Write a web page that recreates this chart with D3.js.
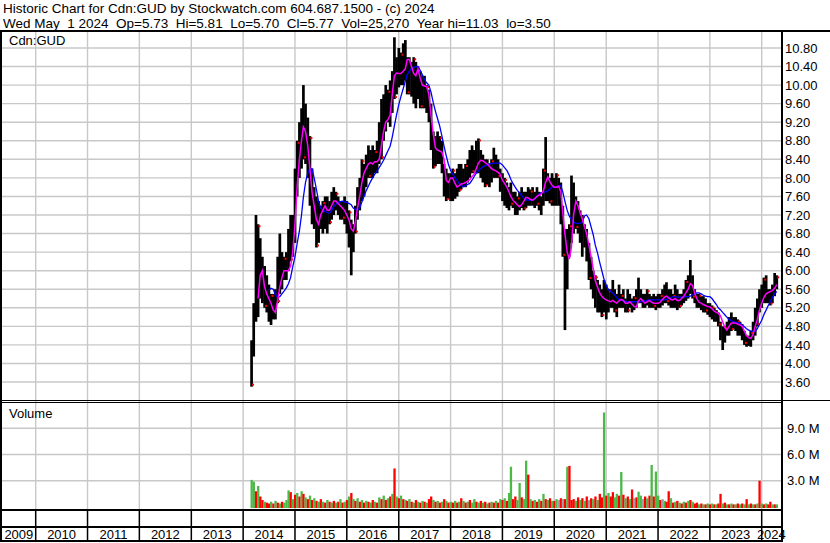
<!DOCTYPE html>
<html>
<head>
<meta charset="utf-8">
<script src="https://cdn.jsdelivr.net/npm/d3@7"></script>
<style>
    body { margin: 0; background: #fff; }
    svg { display: block; font-family: "Liberation Sans", Arial, sans-serif; }
</style>
</head>
<body>
<div id="chart"></div>
<script>
// header text
const headerLines = [
    "Historic Chart for Cdn:GUD by Stockwatch.com 604.687.1500 - (c) 2024",
    "Wed May  1 2024  Op=5.73  Hi=5.81  Lo=5.70  Cl=5.77  Vol=25,270  Year hi=11.03  lo=3.50"
];
const symbolLabel = "Cdn:GUD";

// axis labels
const years = [2009, 2010, 2011, 2012, 2013, 2014, 2015, 2016, 2017, 2018, 2019, 2020, 2021, 2022, 2023, 2024];
const priceTicks = [3.60, 4.00, 4.40, 4.80, 5.20, 5.60, 6.00, 6.40, 6.80, 7.20, 7.60, 8.00, 8.40, 8.80, 9.20, 9.60, 10.00, 10.40, 10.80];
const volTicks = [3, 6, 9];

// half-month periods, first one starts March 1 2014
const firstPeriod = [2014, 2];

// period highs
const priceHi = [
    4.5, 5.3, 7.2, 7.0, 6.7, 6.3, 6.1, 5.9, 5.7, 5.5, 5.5, 5.6, 6.3, 6.8, 6.4, 6.3, 6.4, 6.9, 7.2, 7.2,
    8.2, 8.8, 9.2, 9.5, 10.0, 9.6, 9.3, 8.9, 8.2, 7.8, 7.6, 7.5, 7.4, 7.5, 7.6, 7.6, 7.5, 7.7, 7.8, 7.7, 7.6, 7.5, 7.5, 7.6,
    7.5, 7.3, 7.1, 7.0, 7.4, 7.8, 8.0, 8.4, 8.3, 8.5, 8.7, 8.6, 8.7, 8.6, 8.8, 9.2, 9.7, 9.8, 10.0, 9.9, 10.1, 10.3, 11.03, 10.6,
    10.8, 10.7, 10.9, 10.97, 10.6, 10.6, 10.5, 10.6, 10.5, 10.4, 10.3, 10.2, 10.2, 10.0, 9.9, 9.6, 9.0, 8.9, 9.0, 8.9, 8.8, 8.3, 8.2, 8.1,
    8.1, 8.2, 8.1, 8.2, 8.3, 8.3, 8.2, 8.3, 8.4, 8.6, 8.7, 8.6, 8.8, 8.85, 8.6, 8.5, 8.4, 8.4, 8.3, 8.4, 8.65, 8.5, 8.4, 8.2,
    8.1, 8.0, 7.9, 7.8, 7.9, 7.7, 7.7, 7.6, 7.7, 7.8, 7.7, 7.7, 7.8, 7.75, 7.8, 7.7, 7.8, 7.7, 7.6, 8.2, 8.88, 8.1, 8.0, 8.1,
    8.0, 8.1, 8.0, 7.9, 7.4, 6.9, 6.9, 7.0, 8.05, 7.9, 7.6, 7.5, 7.3, 7.2, 7.0, 6.9, 6.6, 6.3, 6.0, 5.9, 5.8, 5.7, 5.6, 5.8,
    5.7, 5.6, 5.6, 5.8, 5.6, 5.5, 5.7, 5.5, 5.6, 5.4, 5.6, 5.5, 5.4, 5.45, 5.6, 5.85, 5.6, 5.5, 5.5, 5.6, 5.5, 5.45, 5.5, 5.45,
    5.5, 5.5, 5.6, 5.7, 5.75, 5.6, 5.6, 5.5, 5.7, 5.6, 5.5, 5.5, 5.6, 5.8, 5.9, 6.23, 5.9, 5.6, 5.5, 5.5, 5.45, 5.45, 5.4, 5.3,
    5.3, 5.25, 5.2, 5.15, 5.1, 4.9, 4.8, 4.8, 4.9, 5.0, 5.1, 5.0, 5.0, 4.95, 4.9, 4.85, 4.7, 4.6, 4.6, 4.7, 4.9, 5.2, 5.4, 5.6,
    5.7, 5.85, 5.9, 5.6, 5.6, 5.7, 5.95, 5.9
];

// period lows
const priceLo = [
    3.5, 4.15, 4.9, 5.0, 5.4, 5.3, 5.2, 5.1, 4.9, 4.83, 4.95, 4.95, 5.3, 5.5, 5.6, 5.8, 5.8, 6.0, 6.2, 6.3,
    6.6, 7.6, 8.0, 8.2, 8.4, 8.3, 8.0, 7.4, 7.0, 6.9, 6.5, 6.6, 6.9, 6.8, 6.9, 6.8, 7.0, 7.1, 7.2, 7.3, 7.2, 7.1, 7.1, 7.0,
    6.8, 6.5, 5.9, 6.4, 6.8, 7.1, 7.3, 7.5, 7.6, 7.8, 8.0, 8.0, 8.0, 8.1, 8.1, 8.3, 8.4, 8.8, 9.0, 9.2, 9.1, 9.4, 9.7, 9.8,
    9.95, 10.0, 10.0, 10.1, 9.8, 9.8, 9.75, 9.6, 9.5, 9.7, 9.5, 9.5, 9.5, 9.4, 9.2, 8.6, 8.2, 8.25, 8.3, 8.3, 8.1, 7.6, 7.5, 7.55,
    7.5, 7.5, 7.55, 7.6, 7.7, 7.75, 7.8, 7.8, 7.9, 8.0, 8.1, 8.1, 8.1, 8.1, 8.0, 7.9, 7.8, 7.85, 7.8, 7.9, 8.0, 8.0, 8.0, 7.7,
    7.5, 7.4, 7.35, 7.3, 7.4, 7.35, 7.2, 7.2, 7.3, 7.35, 7.3, 7.35, 7.4, 7.4, 7.4, 7.35, 7.4, 7.3, 7.2, 7.4, 7.5, 7.5, 7.45, 7.4,
    7.4, 7.4, 7.4, 7.0, 6.3, 4.72, 5.6, 6.3, 6.6, 6.8, 6.9, 6.8, 6.6, 6.3, 6.5, 6.2, 5.8, 5.6, 5.4, 5.2, 5.1, 5.1, 5.0, 5.1,
    4.95, 5.1, 5.2, 5.2, 5.1, 5.0, 5.2, 5.2, 5.2, 5.1, 5.1, 5.2, 5.1, 5.15, 5.2, 5.3, 5.3, 5.2, 5.2, 5.25, 5.2, 5.2, 5.2, 5.15,
    5.2, 5.2, 5.25, 5.3, 5.3, 5.25, 5.2, 5.2, 5.2, 5.15, 5.2, 5.25, 5.3, 5.35, 5.4, 5.5, 5.4, 5.3, 5.2, 5.2, 5.15, 5.1, 5.1, 5.05,
    5.0, 4.95, 4.9, 4.9, 4.8, 4.5, 4.29, 4.45, 4.6, 4.6, 4.7, 4.75, 4.7, 4.6, 4.6, 4.5, 4.4, 4.36, 4.38, 4.36, 4.5, 4.6, 4.8, 5.1,
    5.2, 5.3, 5.3, 5.3, 5.25, 5.3, 5.45, 5.6
];

// short moving average (magenta)
const maShort = [
    null, null, null, 5.4, 5.9, 6.0, 5.65, 5.5, 5.4, 5.3, 5.15, 5.1, 5.35, 5.65, 5.85, 6.0, 6.0, 6.0, 6.1, 6.4,
    7.0, 7.8, 8.4, 8.8, 9.1, 9.0, 8.7, 8.2, 7.7, 7.4, 7.1, 7.0, 7.2, 7.3, 7.4, 7.3, 7.3, 7.4, 7.5, 7.5, 7.45, 7.4, 7.35, 7.3,
    7.2, 7.1, 6.9, 6.85, 7.05, 7.35, 7.6, 7.9, 8.1, 8.2, 8.3, 8.33, 8.3, 8.35, 8.35, 8.4, 8.7, 9.0, 9.2, 9.25, 9.35, 9.8, 10.2, 10.26,
    10.25, 10.25, 10.3, 10.35, 10.55, 10.55, 10.4, 10.25, 10.2, 10.35, 10.15, 10.0, 9.98, 9.97, 9.8, 9.35, 8.95, 8.65, 8.6, 8.58, 8.55, 8.4, 7.95, 7.9,
    8.0, 8.0, 7.88, 7.8, 7.83, 7.87, 7.88, 7.9, 7.93, 7.96, 8.03, 8.08, 8.2, 8.32, 8.38, 8.37, 8.33, 8.3, 8.25, 8.2, 8.17, 8.15, 8.12, 8.08,
    7.95, 7.88, 7.8, 7.7, 7.6, 7.52, 7.47, 7.42, 7.38, 7.42, 7.5, 7.58, 7.57, 7.54, 7.52, 7.55, 7.6, 7.63, 7.65, 7.72, 7.9, 8.02, 7.92, 7.84,
    7.8, 7.8, 7.82, 7.7, 7.25, 6.8, 6.4, 6.25, 6.5, 7.2, 7.5, 7.4, 7.25, 7.12, 6.95, 6.8, 6.55, 6.3, 6.05, 5.78, 5.65, 5.52, 5.45, 5.4,
    5.37, 5.35, 5.33, 5.36, 5.33, 5.3, 5.35, 5.38, 5.36, 5.3, 5.3, 5.33, 5.28, 5.23, 5.22, 5.35, 5.4, 5.35, 5.3, 5.33, 5.36, 5.32, 5.3, 5.3,
    5.3, 5.32, 5.38, 5.43, 5.45, 5.42, 5.38, 5.37, 5.4, 5.36, 5.36, 5.4, 5.45, 5.52, 5.6, 5.72, 5.68, 5.52, 5.4, 5.32, 5.3, 5.27, 5.25, 5.23,
    5.22, 5.18, 5.13, 5.1, 5.08, 5.03, 4.9, 4.78, 4.72, 4.8, 4.87, 4.88, 4.87, 4.85, 4.83, 4.8, 4.7, 4.6, 4.56, 4.54, 4.62, 4.8, 4.95, 5.15,
    5.3, 5.42, 5.5, 5.53, 5.55, 5.57, 5.62, 5.7
];

// long moving average (blue)
const maLong = [
    null, null, null, null, null, null, null, null, 5.58, 5.62, 5.6, 5.48, 5.43, 5.44, 5.5, 5.56, 5.63, 5.72, 5.85, 6.08,
    6.3, 6.58, 6.85, 7.2, 7.58, 7.9, 8.1, 8.2, 8.2, 8.0, 7.75, 7.5, 7.35, 7.3, 7.28, 7.25, 7.24, 7.3, 7.38, 7.43, 7.47, 7.49, 7.5, 7.48,
    7.47, 7.45, 7.42, 7.35, 7.32, 7.31, 7.35, 7.48, 7.6, 7.72, 7.82, 7.92, 8.0, 8.08, 8.15, 8.22, 8.3, 8.38, 8.48, 8.58, 8.68, 8.88, 9.12, 9.35,
    9.58, 9.75, 9.92, 10.08, 10.22, 10.3, 10.36, 10.38, 10.4, 10.4, 10.32, 10.22, 10.12, 10.05, 10.0, 9.85, 9.62, 9.44, 9.28, 9.12, 8.9, 8.68, 8.48, 8.3,
    8.16, 8.08, 8.0, 7.95, 7.88, 7.83, 7.81, 7.83, 7.86, 7.88, 7.95, 8.03, 8.1, 8.15, 8.2, 8.24, 8.26, 8.28, 8.3, 8.31, 8.32, 8.32, 8.32, 8.32,
    8.28, 8.22, 8.16, 8.07, 7.97, 7.88, 7.8, 7.73, 7.68, 7.62, 7.56, 7.53, 7.52, 7.52, 7.52, 7.55, 7.6, 7.65, 7.68, 7.69, 7.7, 7.72, 7.76, 7.8,
    7.8, 7.8, 7.83, 7.84, 7.7, 7.5, 7.3, 7.18, 7.1, 7.05, 7.02, 7.02, 7.02, 7.05, 7.18, 7.2, 7.12, 6.95, 6.78, 6.55, 6.38, 6.18, 6.0, 5.82,
    5.68, 5.6, 5.55, 5.52, 5.48, 5.42, 5.38, 5.36, 5.35, 5.34, 5.33, 5.33, 5.33, 5.33, 5.33, 5.33, 5.33, 5.34, 5.35, 5.36, 5.37, 5.37, 5.37, 5.37,
    5.37, 5.37, 5.37, 5.37, 5.38, 5.4, 5.42, 5.44, 5.44, 5.43, 5.43, 5.43, 5.43, 5.44, 5.44, 5.45, 5.48, 5.5, 5.52, 5.52, 5.5, 5.47, 5.45, 5.44,
    5.44, 5.4, 5.33, 5.27, 5.2, 5.16, 5.1, 5.05, 5.0, 4.95, 4.92, 4.9, 4.89, 4.88, 4.87, 4.83, 4.79, 4.75, 4.72, 4.7, 4.69, 4.69, 4.75, 4.84,
    4.93, 5.05, 5.15, 5.25, 5.33, 5.42, 5.5, 5.55
];

// volume, millions of shares
const volume = [
    3.1, 2.9, 1.8, 2.4, 1.2, 0.8, 0.6, 0.5, 0.4, 0.6, 0.4, 0.7, 0.5, 0.4, 0.6, 0.5, 0.8, 1.9, 1.7, 0.9,
    1.4, 1.6, 1.2, 1.8, 1.5, 1.1, 0.9, 1.3, 0.8, 1.0, 0.7, 0.6, 0.9, 0.6, 0.5, 0.8, 0.6, 0.5, 0.7, 0.5, 0.6, 0.9, 0.5, 0.6,
    0.8, 1.2, 1.6, 0.9, 0.7, 1.0, 0.6, 0.8, 0.5, 0.7, 0.6, 0.5, 0.8, 0.6, 0.5, 1.1, 0.9, 1.3, 0.8, 1.0, 1.2, 1.5, 4.4, 1.2,
    1.0, 1.3, 0.9, 0.8, 0.7, 0.9, 0.6, 0.5, 0.8, 0.6, 0.5, 0.7, 0.6, 0.5, 0.9, 1.2, 0.8, 0.6, 0.7, 0.5, 0.6, 0.9, 0.7, 0.5,
    0.6, 0.5, 0.7, 0.5, 0.6, 1.0, 0.7, 0.5, 0.6, 0.8, 0.5, 0.9, 0.6, 0.5, 0.7, 0.5, 0.6, 0.4, 0.5, 0.6, 0.5, 0.7, 0.5, 0.9,
    0.8, 1.0, 0.7, 1.6, 4.6, 0.9, 1.2, 0.8, 2.75, 1.1, 0.9, 5.3, 3.7, 0.9, 0.7, 0.8, 0.6, 0.9, 0.7, 1.5, 0.9, 0.8, 1.0, 0.7,
    0.7, 0.9, 0.8, 1.0, 0.9, 0.9, 4.6, 4.7, 0.8, 0.9, 0.7, 1.1, 0.8, 1.0, 0.7, 1.2, 0.8, 1.0, 0.9, 1.2, 0.8, 1.5, 1.1, 10.8,
    1.3, 1.6, 1.2, 1.7, 1.1, 1.5, 1.3, 4.0, 1.4, 1.0, 1.2, 0.9, 2.0, 1.0, 1.1, 1.75, 1.3, 0.9, 1.2, 1.0, 1.3, 4.8, 1.2, 4.05,
    1.3, 0.8, 0.9, 0.7, 0.6, 1.8, 1.0, 0.5, 0.6, 0.7, 0.5, 0.4, 0.6, 0.5, 0.7, 0.8, 0.6, 0.4, 0.5, 0.3, 0.4, 0.3, 0.3, 0.4,
    0.3, 0.4, 0.3, 0.3, 0.4, 1.5, 0.4, 0.5, 0.3, 0.3, 0.4, 0.3, 0.3, 0.4, 0.3, 0.4, 0.3, 0.9, 0.3, 0.4, 0.3, 0.3, 0.4, 3.0,
    0.4, 0.3, 0.4, 0.3, 0.6, 0.3, 0.3, 0.3
];

// volume bar colour: g = up, r = down, k = unchanged
const volumeDir = [
    "g","g","r","g","r","r","g","r","r","g","r","g","r","g","r","g","g","g","r","g",
    "r","g","r","g","r","g","r","g","r","g","r","g","r","g","r","g","r","g","r","g","r","g","r","g",
    "r","g","r","g","r","g","r","g","r","g","r","g","r","g","r","g","r","g","r","g","r","g","r","g",
    "r","g","r","g","r","g","r","g","r","g","r","g","r","g","r","r","g","r","g","r","g","r","g","r",
    "g","r","g","r","g","r","g","r","g","r","g","g","r","g","r","g","r","g","r","g","r","g","r","g",
    "r","g","r","g","g","r","r","g","g","r","g","g","r","g","r","g","r","g","r","g","r","g","r","g",
    "r","g","k","r","k","r","g","r","r","r","g","r","g","r","g","r","k","r","g","r","g","r","r","g",
    "r","g","r","r","g","g","r","g","r","g","r","g","r","k","r","g","g","k","r","g","r","g","r","g",
    "g","r","k","g","r","r","g","r","g","r","g","r","g","r","g","r","g","r","r","g","r","g","r","g",
    "r","g","r","g","r","r","g","r","g","r","g","r","g","r","g","r","g","r","g","r","g","r","g","r",
    "g","r","g","r","r","g","r","g"
];

class HistoricChart {
    constructor(parentElement) {
        this.parentElement = parentElement;
        this.render();
    }

    render() {
        let vis = this;

        vis.width = 830;
        vis.height = 543;
        vis.plotLeft = 2;
        vis.plotRight = 781;

        vis.svg = d3.select("#" + vis.parentElement).append("svg")
            .attr("width", vis.width)
            .attr("height", vis.height);

        vis.svg.append("rect")
            .attr("width", vis.width).attr("height", vis.height)
            .attr("fill", "#fff");

        //define scales
        vis.x = d3.scaleTime()
            .domain([new Date(2010, 0, 1), new Date(2024, 0, 1)])
            .range([35.7, 761.7]);
        vis.y = d3.scaleLinear().domain([3.2, 11.2]).range([400.6, 29.4]);
        vis.yVol = d3.scaleLinear().domain([0, 12]).range([507, 402]);

        vis.periods = priceHi.map((d, i) =>
            new Date(firstPeriod[0], firstPeriod[1] + Math.floor(i / 2), i % 2 ? 16 : 1));

        // clip paths for the two panels
        let defs = vis.svg.append("defs");
        defs.append("clipPath").attr("id", "clip-price").append("rect")
            .attr("x", vis.plotLeft).attr("y", 32)
            .attr("width", vis.plotRight - vis.plotLeft).attr("height", 368);
        defs.append("clipPath").attr("id", "clip-vol").append("rect")
            .attr("x", vis.plotLeft).attr("y", 403)
            .attr("width", vis.plotRight - vis.plotLeft).attr("height", 106);

        vis.drawGrid();
        vis.drawPrice();
        vis.drawVolume();
        vis.drawFrame();
        vis.drawText();
    }

    drawGrid() {
        let vis = this;
        let grid = vis.svg.append("g").attr("stroke", "#c8c8c8").attr("stroke-width", 1.4);

        grid.selectAll(".hgrid")
            .data(priceTicks)
            .enter().append("line")
            .attr("x1", vis.plotLeft).attr("x2", vis.plotRight)
            .attr("y1", d => vis.y(d)).attr("y2", d => vis.y(d));

        grid.selectAll(".vgrid")
            .data(volTicks)
            .enter().append("line")
            .attr("x1", vis.plotLeft).attr("x2", vis.plotRight)
            .attr("y1", d => vis.yVol(d)).attr("y2", d => vis.yVol(d));

        grid.selectAll(".ygrid")
            .data(years.slice(1))
            .enter().append("line")
            .attr("x1", d => vis.x(new Date(d, 0, 1))).attr("x2", d => vis.x(new Date(d, 0, 1)))
            .attr("y1", 32).attr("y2", 509);
    }

    drawPrice() {
        let vis = this;
        let g = vis.svg.append("g").attr("clip-path", "url(#clip-price)");

        // high-low bars
        g.selectAll(".bar")
            .data(vis.periods)
            .enter().append("rect")
            .attr("x", d => vis.x(d) - 1.3)
            .attr("width", 2.7)
            .attr("y", (d, i) => vis.y(priceHi[i]))
            .attr("height", (d, i) => Math.max(1, vis.y(priceLo[i]) - vis.y(priceHi[i])))
            .attr("fill", "#000");

        // red close ticks on every third bar
        let marks = vis.periods.map((d, i) => i).filter(i => i % 3 === 0);
        g.selectAll(".tick-mark")
            .data(marks)
            .enter().append("rect")
            .attr("x", i => vis.x(vis.periods[i]) + 0.5)
            .attr("width", 2).attr("height", 2)
            .attr("y", i => vis.y(i % 2 ? priceHi[i] : priceLo[i]) + (i % 2 ? 1 : -3))
            .attr("fill", "#ff0000");

        let line = d3.line()
            .defined(d => d[1] != null)
            .x(d => vis.x(d[0]))
            .y(d => vis.y(d[1]));

        g.append("path")
            .datum(vis.periods.map((d, i) => [d, maLong[i]]))
            .attr("d", line)
            .attr("fill", "none")
            .attr("stroke", "#0000ff")
            .attr("stroke-width", 1.3);

        g.append("path")
            .datum(vis.periods.map((d, i) => [d, maShort[i]]))
            .attr("d", line)
            .attr("fill", "none")
            .attr("stroke", "#ff00ff")
            .attr("stroke-width", 1.5);
    }

    drawVolume() {
        let vis = this;
        let colors = {g: "#4cb848", r: "#ff0000", k: "#a0a0a0"};
        let g = vis.svg.append("g").attr("clip-path", "url(#clip-vol)");

        g.selectAll(".vol")
            .data(vis.periods)
            .enter().append("rect")
            .attr("x", d => vis.x(d) - 1)
            .attr("width", 2.3)
            .attr("y", (d, i) => vis.yVol(volume[i]))
            .attr("height", (d, i) => vis.yVol(0) - vis.yVol(volume[i]) + 1)
            .attr("fill", (d, i) => colors[volumeDir[i]]);
    }

    drawFrame() {
        let vis = this;
        let f = vis.svg.append("g").attr("fill", "#000");

        f.append("rect").attr("x", 0).attr("y", 30).attr("width", vis.width).attr("height", 2);
        f.append("rect").attr("x", 0).attr("y", 30).attr("width", 2).attr("height", 512);
        f.append("rect").attr("x", vis.plotRight).attr("y", 30).attr("width", 2).attr("height", 512);
        f.append("rect").attr("x", 0).attr("y", 400).attr("width", vis.width).attr("height", 1);
        f.append("rect").attr("x", 0).attr("y", 402).attr("width", vis.plotRight).attr("height", 1);
        f.append("rect").attr("x", 0).attr("y", 509).attr("width", vis.plotRight).attr("height", 2);
        f.append("rect").attr("x", 0).attr("y", 526).attr("width", vis.plotRight).attr("height", 2);
        f.append("rect").attr("x", 0).attr("y", 540).attr("width", vis.plotRight + 2).attr("height", 2);

        // year separators
        f.selectAll(".year-tick")
            .data(years.slice(1))
            .enter().append("rect")
            .attr("x", d => vis.x(new Date(d, 0, 1)) - 0.75)
            .attr("y", 511).attr("width", 1.5).attr("height", 29);
    }

    drawText() {
        let vis = this;

        vis.svg.selectAll(".header")
            .data(headerLines)
            .enter().append("text")
            .attr("x", 3)
            .attr("y", (d, i) => 12.7 + i * 15.5)
            .attr("xml:space", "preserve")
            .style("white-space", "pre")
            .attr("font-size", 13.5)
            .attr("fill", "#000")
            .text(d => d);

        vis.svg.append("text")
            .attr("x", 9).attr("y", 45)
            .attr("font-size", 13)
            .text(symbolLabel);

        vis.svg.append("text")
            .attr("x", 9).attr("y", 417.5)
            .attr("font-size", 13)
            .text("Volume");

        // price axis
        let priceAxis = vis.svg.append("g")
            .attr("transform", `translate(${vis.plotRight + 2}, 0)`)
            .call(d3.axisRight(vis.y).tickValues(priceTicks).tickFormat(d3.format(".2f")).tickSize(0).tickPadding(2));
        priceAxis.select(".domain").remove();
        priceAxis.selectAll("text")
            .attr("font-size", 13)
            .attr("font-family", "Liberation Sans, Arial, sans-serif")
            .attr("fill", "#000");

        // volume axis
        let volAxis = vis.svg.append("g")
            .attr("transform", `translate(${vis.plotRight + 2}, 0)`)
            .call(d3.axisRight(vis.yVol).tickValues(volTicks).tickFormat(d => d3.format(".1f")(d) + " M").tickSize(0).tickPadding(4));
        volAxis.select(".domain").remove();
        volAxis.selectAll("text")
            .attr("font-size", 13)
            .attr("font-family", "Liberation Sans, Arial, sans-serif")
            .attr("fill", "#000");

        // year labels, centred in each year's span
        vis.svg.selectAll(".year-label")
            .data(years)
            .enter().append("text")
            .attr("x", d => {
                let a = Math.max(vis.plotLeft, vis.x(new Date(d, 0, 1)));
                let b = Math.min(vis.plotRight, vis.x(new Date(d + 1, 0, 1)));
                return (a + b) / 2;
            })
            .attr("y", 539)
            .attr("text-anchor", "middle")
            .attr("font-size", 13)
            .text(d => d);
    }
}

new HistoricChart("chart");
</script>
</body>
</html>
